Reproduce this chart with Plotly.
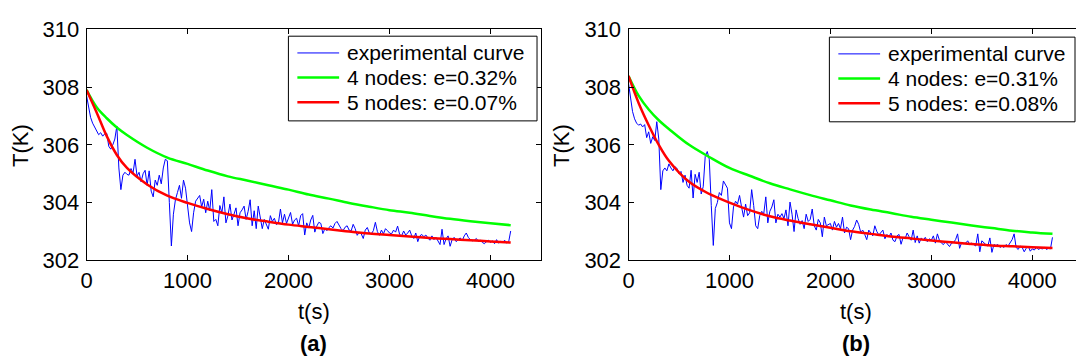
import plotly.graph_objects as go

# ---------------- data ----------------
t_exp = list(range(0, 4201, 20))  # sample times (s)

exp_a = [
    307.7, 307.25, 306.95, 306.75, 306.6, 306.5, 306.35, 306.42, 306.3, 306.38,
    306.4, 305.95, 305.85, 306.0, 306.2, 306.65, 305.2, 304.45, 304.95, 305.05,
    304.98, 304.95, 305.18, 305.02, 305.5, 304.92, 305.05, 304.72, 305.0, 305.12,
    304.6, 305.1, 304.4, 304.2, 304.78, 304.6, 304.95, 304.65, 305.2, 305.5,
    305.45, 304.0, 302.5, 303.6, 304.1, 304.35, 304.6, 304.15, 304.78, 304.5,
    303.9, 303.3, 303.0, 303.65, 304.05, 304.15, 304.25, 303.85, 304.12, 303.65,
    304.05, 303.72, 304.45, 303.35, 303.42, 303.2, 303.9, 303.65, 304.2, 303.3,
    303.55, 303.95, 303.4, 303.6, 303.82, 303.2, 303.65, 303.75, 303.88, 303.42,
    303.7, 304.1, 303.2, 303.72, 303.1, 303.88, 303.5, 303.1, 303.42, 303.25,
    303.08, 303.55, 303.35, 303.46, 303.24, 303.3, 303.78, 303.3, 303.6, 303.28,
    303.45, 303.66, 303.25, 303.4, 303.46, 303.2, 303.55, 303.62, 302.88, 303.3,
    303.12, 303.4, 303.56, 302.98, 303.19, 303.32, 303.28, 302.93, 303.1, 303.03,
    303.14, 303.2, 303.12, 303.28, 303.35, 303.22, 303.1, 303.03, 303.15, 303.2,
    303.05, 303.02, 303.25, 303.1, 302.87, 302.98, 302.92, 302.76, 303.05, 303.14,
    302.95, 302.92, 303.03, 303.32, 303.0, 302.87, 303.05, 302.92, 303.1, 303.03,
    302.95, 302.92, 303.05, 302.98, 303.19, 302.9, 302.85, 303.02, 302.88, 302.95,
    303.05, 302.85, 302.76, 302.95, 302.65, 302.85, 302.9, 302.82, 302.88, 302.78,
    302.7, 302.85, 302.72, 302.8, 302.68, 302.55, 303.08, 302.55, 302.75, 302.85,
    302.49, 302.72, 302.8, 302.65, 302.72, 302.78, 302.68, 302.85, 302.95, 302.8,
    302.72, 302.68, 302.7, 302.76, 302.66, 302.7, 302.62, 302.58, 302.65, 302.7,
    302.62, 302.68, 302.58, 302.72, 302.6, 302.66, 302.62, 302.7, 302.6, 302.65,
    303.02,
]

exp_b = [
    308.13, 307.55, 307.15, 306.9, 306.75, 306.68, 306.72, 306.62, 306.7, 306.25,
    306.45, 306.05, 306.28, 306.15, 306.8, 306.2, 304.45, 305.1, 305.2, 305.1,
    305.34, 305.2, 305.1, 305.25, 305.18, 305.0, 305.08, 304.7, 304.95, 304.6,
    304.5, 305.12, 304.16, 304.98, 304.7, 305.05, 304.3, 304.55, 305.6, 305.77,
    305.5, 303.9, 302.52, 303.8, 304.0, 304.35, 304.25, 304.75, 304.6, 304.5,
    303.3, 303.1, 303.85, 304.05, 303.95, 304.25, 303.85, 303.5, 303.95, 303.55,
    303.65, 304.45, 303.9, 303.2, 303.1, 303.55, 303.7, 303.62, 304.2, 303.3,
    303.7, 303.85, 304.1, 303.3, 303.6, 303.5, 303.62, 303.45, 303.75, 303.2,
    304.02, 303.6, 303.0, 303.75, 303.45, 303.25, 303.38, 303.1, 303.6, 303.35,
    303.42, 303.78, 303.2, 303.05, 303.42, 303.3, 302.82, 303.5, 303.2, 303.25,
    303.28, 303.05, 303.35, 303.15, 303.28, 303.1, 303.5, 302.95, 303.15, 303.1,
    302.72, 303.05, 303.18, 303.4, 303.25, 302.98, 303.05, 302.9, 302.72, 303.05,
    302.95, 302.85, 303.2, 303.0, 302.88, 302.98, 303.05, 302.75, 302.9, 302.82,
    302.95, 302.7, 302.65, 302.85, 302.9, 302.56, 302.8, 302.75, 302.95, 302.82,
    302.7, 303.05, 302.62, 302.85, 302.6, 302.78, 302.7, 302.8, 302.65, 302.75,
    302.7, 302.85, 302.6, 302.92, 302.7, 302.6, 302.55, 302.65, 302.58, 302.48,
    302.6, 302.62, 302.72, 302.92, 302.42, 302.62, 302.58, 302.6, 302.68, 302.55,
    302.6, 302.55, 302.5, 302.92, 302.3, 302.68, 302.6, 302.55, 302.5, 302.78,
    302.28, 302.55, 302.52, 302.55, 302.45, 302.5, 302.45, 302.55, 302.5, 302.62,
    302.72, 302.92, 302.45, 302.38, 302.5, 302.45, 302.3, 302.42, 302.5, 302.32,
    302.4, 302.36, 302.45, 302.38, 302.42, 302.4, 302.45, 302.38, 302.42, 302.4,
    302.8,
]

t_model = [0, 100, 200, 300, 400, 600, 800, 1000, 1200, 1400, 1600, 1800, 2000,
           2200, 2400, 2600, 2800, 3000, 3200, 3400, 3600, 3800, 4000, 4200]

n4_a = [307.9, 307.3, 306.92, 306.6, 306.34, 305.9, 305.56, 305.34, 305.11, 304.91,
        304.76, 304.6, 304.45, 304.28, 304.14, 303.99, 303.86, 303.74, 303.65,
        303.54, 303.44, 303.36, 303.29, 303.22]
n5_a = [307.9, 307.12, 306.3, 305.65, 305.2, 304.63, 304.24, 303.99, 303.78, 303.6,
        303.45, 303.34, 303.24, 303.16, 303.08, 303.0, 302.93, 302.88, 302.83,
        302.78, 302.74, 302.7, 302.66, 302.62]
n4_b = [308.38, 307.7, 307.22, 306.85, 306.55, 306.0, 305.58, 305.2, 304.93, 304.67,
        304.46, 304.26, 304.08, 303.9, 303.76, 303.64, 303.51, 303.41, 303.31,
        303.21, 303.12, 303.03, 302.97, 302.92]
n5_b = [308.38, 307.45, 306.68, 306.0, 305.45, 304.72, 304.3, 304.0, 303.74, 303.53,
        303.38, 303.25, 303.13, 303.01, 302.92, 302.83, 302.76, 302.69, 302.63,
        302.57, 302.52, 302.49, 302.46, 302.43]

names_a = ["experimental curve", "4 nodes: e=0.32%", "5 nodes: e=0.07%"]
names_b = ["experimental curve", "4 nodes: e=0.31%", "5 nodes: e=0.08%"]

x_ticks = [0, 1000, 2000, 3000, 4000]
y_ticks = [302, 304, 306, 308, 310]
panel_labels = ["(a)", "(b)"]

# ---------------- figure ----------------
W, H = 1076, 360
FONT = "Liberation Sans, Arial, sans-serif"
BLUE, GREEN, RED = "#0000FF", "#00FF00", "#FF0000"
COLORS = [BLUE, GREEN, RED]
WIDTHS = [1, 2.5, 2.5]

fig = go.Figure()


def add_panel(xa, ya, exp, n4, n5, names):
    fig.add_trace(go.Scatter(x=t_exp, y=exp, mode="lines", name=names[0],
                             line=dict(color=BLUE, width=1), xaxis=xa, yaxis=ya,
                             showlegend=False))
    fig.add_trace(go.Scatter(x=t_model, y=n4, mode="lines", name=names[1],
                             line=dict(color=GREEN, width=2.5, shape="spline"),
                             xaxis=xa, yaxis=ya, showlegend=False))
    fig.add_trace(go.Scatter(x=t_model, y=n5, mode="lines", name=names[2],
                             line=dict(color=RED, width=2.5, shape="spline"),
                             xaxis=xa, yaxis=ya, showlegend=False))


add_panel("x", "y", exp_a, n4_a, n5_a, names_a)
add_panel("x2", "y2", exp_b, n4_b, n5_b, names_b)


def px_x(p):
    return p / W


def px_y(p):
    return 1 - p / H


y_dom = [px_y(267), px_y(18.5)]
TICK_FONT = dict(family=FONT, size=22, color="black")

axis_common = dict(showline=True, linecolor="black", linewidth=1, ticks="inside",
                   ticklen=5, tickwidth=1, tickcolor="black", showgrid=False,
                   zeroline=False, tickfont=TICK_FONT)

fig.update_layout(
    width=W, height=H, margin=dict(l=0, r=0, t=0, b=0),
    paper_bgcolor="white", plot_bgcolor="white",
    font=dict(family=FONT, color="black"),
    showlegend=False,
    xaxis=dict(domain=[px_x(81), px_x(538)], range=[0, 4500], tickvals=x_ticks,
               mirror="ticks", anchor="y", **axis_common),
    yaxis=dict(domain=y_dom, range=[302, 310], tickvals=y_ticks, mirror="ticks",
               anchor="x", ticklabelstandoff=2, **axis_common),
    xaxis2=dict(domain=[px_x(626), 1.0], range=[0, 4433], tickvals=x_ticks,
                mirror="ticks", anchor="y2", **axis_common),
    yaxis2=dict(domain=y_dom, range=[302, 310], tickvals=y_ticks, mirror=False,
                anchor="x2", ticklabelstandoff=2, **axis_common),
)


# legend boxes (framed boxes with line samples and real text)
def add_legend_box(left, top, right, bottom, names):
    fig.add_shape(type="rect", xref="paper", yref="paper",
                  x0=px_x(left), x1=px_x(right), y0=px_y(bottom), y1=px_y(top),
                  line=dict(color="black", width=1), fillcolor="white", layer="above")
    rows = [top + 18, top + 44.5, top + 71]
    for i, (name, ry) in enumerate(zip(names, rows)):
        fig.add_shape(type="line", xref="paper", yref="paper",
                      x0=px_x(left + 9), x1=px_x(left + 51), y0=px_y(ry), y1=px_y(ry),
                      line=dict(color=COLORS[i], width=WIDTHS[i]), layer="above")
        fig.add_annotation(text=name, xref="paper", yref="paper",
                           x=px_x(left + 57), y=px_y(ry), xanchor="left",
                           yanchor="middle", showarrow=False,
                           font=dict(family=FONT, size=21, color="black"))


add_legend_box(284, 26, 534, 117, names_a)
add_legend_box(828, 27, 1075, 118, names_b)

ann_font = dict(family=FONT, size=22, color="black")
for xa, lab in [("x", panel_labels[0]), ("x2", panel_labels[1])]:
    fig.add_annotation(text="t(s)", x=2250, xref=xa, y=px_y(322), yref="paper",
                       showarrow=False, font=ann_font, xanchor="center", yanchor="middle")
    fig.add_annotation(text="<b>" + lab + "</b>", x=2250, xref=xa, y=px_y(356),
                       yref="paper", showarrow=False, font=ann_font,
                       xanchor="center", yanchor="middle")

for xc in (14, 558):
    fig.add_annotation(text="T(K)", x=px_x(xc), xref="paper", y=px_y(143), yref="paper",
                       showarrow=False, font=ann_font, textangle=-90,
                       xanchor="center", yanchor="middle")

fig.write_html("out.html")
